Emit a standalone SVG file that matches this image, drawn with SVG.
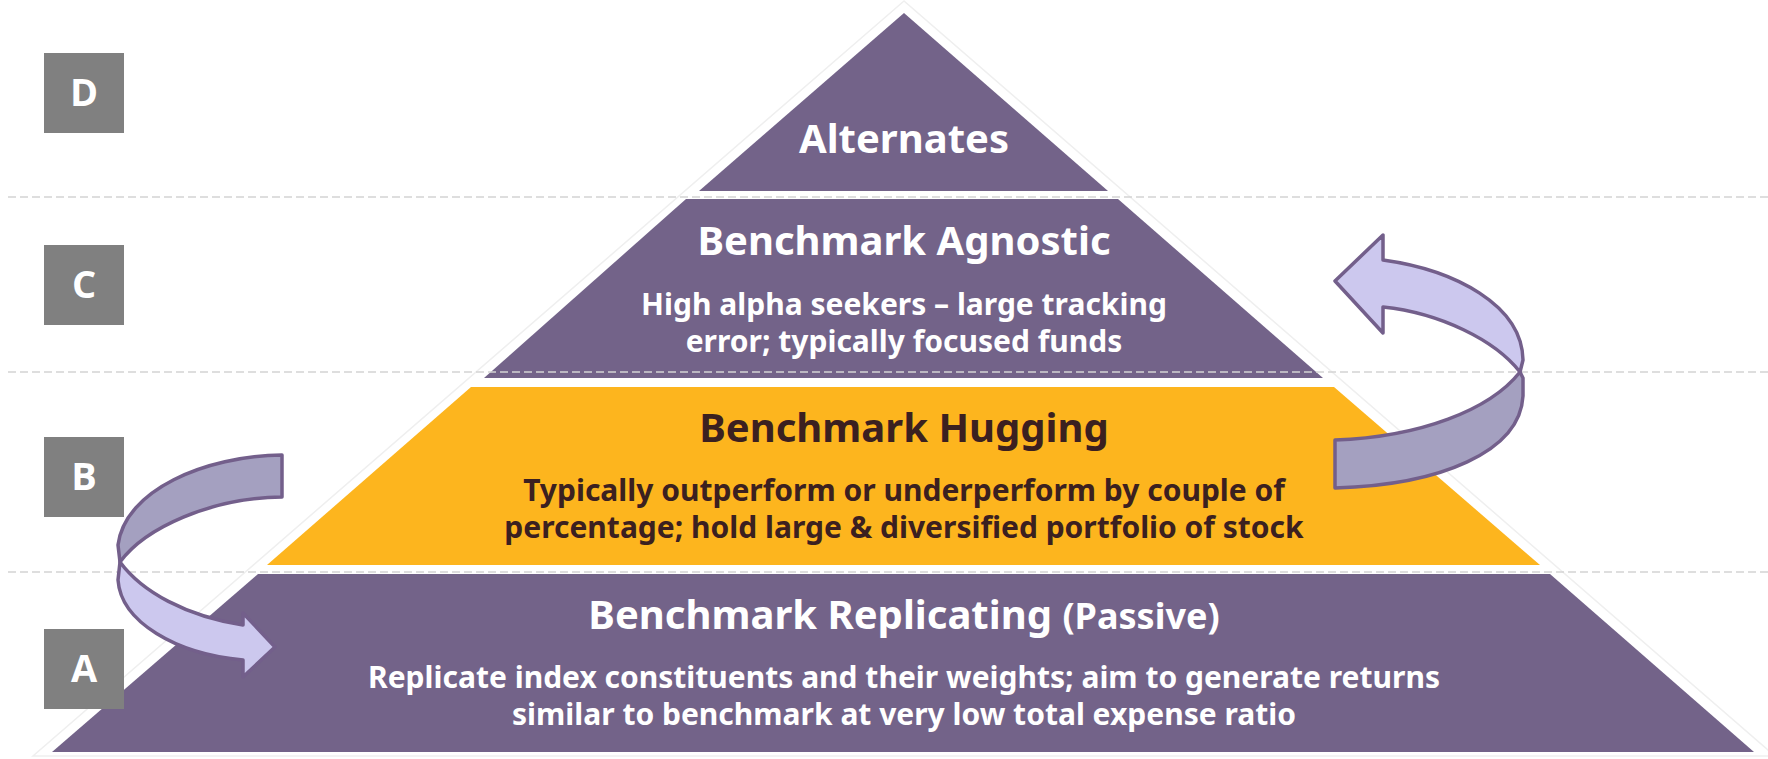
<svg xmlns="http://www.w3.org/2000/svg" width="1768" height="759" viewBox="0 0 1768 759">
<style>
.bg{fill:#ffffff}
.purple{fill:#736389}
.yellow{fill:#fdb51e}
.halo{fill:none;stroke:#efefef;stroke-width:1.5}
.dash{stroke:#d4d4d4;stroke-width:1.6;stroke-dasharray:8 4;fill:none}
.box{fill:#808080}
.lbl{font-family:"Open Sans","Noto Sans",sans-serif;font-weight:700;font-size:38px;fill:#ffffff;text-anchor:middle}
.t{font-family:"Noto Sans","Open Sans",sans-serif;font-weight:700;text-anchor:middle}
.h{font-size:40px}
.s{font-size:30px}
.w{fill:#ffffff}
.d{fill:#3b2020}
.arr{stroke:#735f8b;stroke-width:3.5;stroke-linejoin:round}
.front{fill:#ccc8ee}
.back{fill:#a4a0c0}
</style>
<rect class="bg" x="0" y="0" width="1768" height="759"/>
<polygon class="halo" points="904,1 33,756 1775,756"/>

<g id="tier-alternates">
<polygon class="purple" points="904,13 699,191 1108,191"/>
<text class="t h w" x="904" y="153">Alternates</text>
</g>

<g id="tier-agnostic">
<polygon class="purple" points="686,199 1118,199 1323,378 484,378"/>
<text class="t h w" x="904" y="255">Benchmark Agnostic</text>
<text class="t s w" x="904" y="315">High alpha seekers – large tracking</text>
<text class="t s w" x="904" y="352">error; typically focused funds</text>
</g>

<g id="tier-hugging">
<polygon class="yellow" points="471,387 1334,387 1540,565 267,565"/>
<text class="t h d" x="904" y="442">Benchmark Hugging</text>
<text class="t s d" x="904" y="501">Typically outperform or underperform by couple of</text>
<text class="t s d" x="904" y="538">percentage; hold large &amp; diversified portfolio of stock</text>
</g>

<g id="tier-replicating">
<polygon class="purple" points="258,574 1550,574 1754,752 52,752"/>
<text class="t w" x="904" y="629"><tspan class="h">Benchmark Replicating </tspan><tspan font-size="36px">(Passive)</tspan></text>
<text class="t s w" x="904" y="688">Replicate index constituents and their weights; aim to generate returns</text>
<text class="t s w" x="904" y="725">similar to benchmark at very low total expense ratio</text>
</g>

<g id="guides">
<line class="dash" x1="8" y1="197" x2="1768" y2="197"/>
<line class="dash" x1="8" y1="372" x2="1768" y2="372"/>
<line class="dash" x1="8" y1="572" x2="1768" y2="572"/>
</g>

<g id="label-D"><rect class="box" x="44" y="53" width="80" height="80"/><text class="lbl" x="84" y="106">D</text></g>
<g id="label-C"><rect class="box" x="44" y="245" width="80" height="80"/><text class="lbl" x="84" y="298">C</text></g>
<g id="label-B"><rect class="box" x="44" y="437" width="80" height="80"/><text class="lbl" x="84" y="490">B</text></g>
<g id="label-A"><rect class="box" x="44" y="629" width="80" height="80"/><text class="lbl" x="84" y="682">A</text></g>

<g id="connectors">
<g id="arrow-B-to-A">
<path class="arr back" d="M282,455 C205,456 125,490 118,545 L120,562 C145,528 210,498 282,497 Z"/>
<path class="arr front" d="M120,562 L118,580 C121,622 176,654 243,660 L243,677 L275,647 L243,613 L243,625 C186,616 142,592 120,562 Z"/>
</g>
<g id="arrow-B-to-C">
<path class="arr back" d="M1520,372 L1523,378 L1523,396 C1520,452 1440,485 1335,488 L1335,440 C1420,437 1490,410 1520,372 Z"/>
<path class="arr front" d="M1335,281 L1383,235 L1383,260 C1455,270 1522,305 1523,360 L1520,372 C1495,340 1440,313 1383,307 L1383,333 Z"/>
</g>
</g>
</svg>
